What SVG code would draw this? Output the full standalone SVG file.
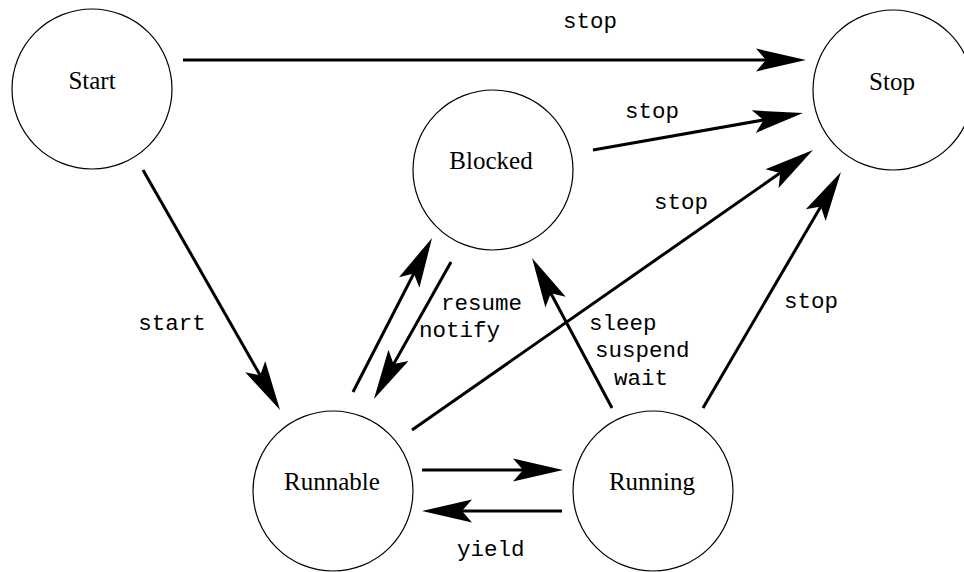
<svg xmlns="http://www.w3.org/2000/svg" width="964" height="572" viewBox="0 0 964 572">
<style>
.node circle{fill:#fff;stroke:#000;stroke-width:1.2}
.node text{font-family:"Liberation Serif","Times New Roman",serif;font-size:25px;text-anchor:middle;fill:#000}
.edge{stroke:#000;stroke-width:3;fill:none;marker-end:url(#ah)}
.lbl{font-family:"Liberation Mono","Courier New",monospace;font-size:22.5px;fill:#000}
.mid{text-anchor:middle}
</style>
<defs>
<marker id="ah" markerUnits="userSpaceOnUse" viewBox="-52 -12 54 24" markerWidth="54" markerHeight="24" refX="-15" refY="0" orient="auto" overflow="visible">
<path d="M0,0 L-50,-11.5 L-40,0 L-50,11.5 Z" fill="#000"/>
</marker>
</defs>
<rect width="964" height="572" fill="#fff"/>
<g id="node-start" class="node"><circle cx="92" cy="89" r="80"/><text x="92" y="89">Start</text></g>
<g id="node-stop" class="node"><circle cx="893" cy="90" r="80"/><text x="892" y="90">Stop</text></g>
<g id="node-blocked" class="node"><circle cx="493" cy="170" r="80"/><text x="491" y="169">Blocked</text></g>
<g id="node-runnable" class="node"><circle cx="333" cy="491" r="80"/><text x="332" y="490">Runnable</text></g>
<g id="node-running" class="node"><circle cx="653" cy="491" r="80"/><text x="652" y="490">Running</text></g>
<g id="connectors">
<line class="edge" x1="183" y1="60" x2="791" y2="60"/>
<line class="edge" x1="593" y1="150" x2="788.2" y2="115.6"/>
<line class="edge" x1="412" y1="430" x2="800.7" y2="158.6"/>
<line class="edge" x1="703" y1="408" x2="833.4" y2="184.9"/>
<line class="edge" x1="143" y1="170" x2="272.6" y2="397"/>
<line class="edge" x1="353" y1="392" x2="425.2" y2="251.3"/>
<line class="edge" x1="451" y1="262" x2="381.3" y2="385.9"/>
<line class="edge" x1="612" y1="408" x2="539.1" y2="271.2"/>
<line class="edge" x1="422" y1="470" x2="548" y2="470"/>
<line class="edge" x1="562" y1="511" x2="437" y2="511"/>
</g>
<g id="labels">
<text class="lbl mid" x="590" y="28">stop</text>
<text class="lbl mid" x="652" y="118">stop</text>
<text class="lbl mid" x="681" y="209">stop</text>
<text class="lbl mid" x="811" y="308">stop</text>
<text class="lbl mid" x="172" y="330">start</text>
<text class="lbl" x="441" y="310">resume</text>
<text class="lbl" x="419" y="337">notify</text>
<text class="lbl" x="589" y="330">sleep</text>
<text class="lbl" x="595" y="357">suspend</text>
<text class="lbl" x="614" y="385">wait</text>
<text class="lbl" x="457" y="556">yield</text>
</g>
</svg>
